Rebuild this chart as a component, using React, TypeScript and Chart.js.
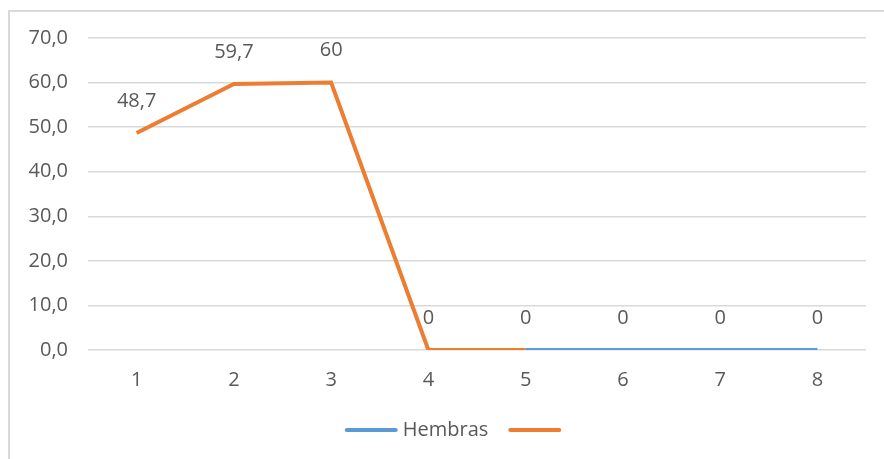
import React, { useEffect, useRef } from "react";
import { Chart, registerables } from "chart.js";

Chart.register(...registerables);

const categories = ["1", "2", "3", "4", "5", "6", "7", "8"];
const hembras: (number | null)[] = [null, null, null, null, 0, 0, 0, 0];
const serie2: (number | null)[] = [48.7, 59.7, 60, 0, 0, null, null, null];
const seriesNames = ["Hembras", ""];
const seriesColors = ["#5B9BD5", "#ED7D31"];

const FONT = "'Open Sans', 'Liberation Sans', sans-serif";
const TEXT = "#595959";

const fmtLabel = (v: number) => String(v).replace(".", ",");

const dataLabelPlugin = {
  id: "dataLabels",
  afterDatasetsDraw(chart: any) {
    const ctx = chart.ctx;
    const done = new Set<number>();
    ctx.save();
    ctx.font = `20px ${FONT}`;
    ctx.fillStyle = TEXT;
    ctx.textAlign = "center";
    ctx.textBaseline = "middle";
    for (let d = chart.data.datasets.length - 1; d >= 0; d--) {
      const ds = chart.data.datasets[d];
      const meta = chart.getDatasetMeta(d);
      ds.data.forEach((v: number | null, i: number) => {
        if (v === null || v === undefined || done.has(i)) return;
        done.add(i);
        const pt = meta.data[i];
        ctx.fillText(fmtLabel(v), pt.x, pt.y - 32);
      });
    }
    ctx.restore();
  },
};

const legendPlugin = {
  id: "customLegend",
  afterDraw(chart: any) {
    const ctx = chart.ctx;
    const lineW = 53;
    const gapText = 5;
    const gapItem = 20;
    ctx.save();
    ctx.font = `20px ${FONT}`;
    const items = chart.data.datasets.map((ds: any) => ({
      text: ds.label as string,
      color: ds.borderColor as string,
      w: ctx.measureText(ds.label).width,
    }));
    let total = 0;
    items.forEach((it: any, i: number) => {
      total += lineW + (it.text ? gapText + it.w : 0) + (i < items.length - 1 ? gapItem : 0);
    });
    let x = chart.width / 2 + 6 - total / 2;
    const y = chart.height - 29;
    ctx.textBaseline = "middle";
    ctx.textAlign = "left";
    items.forEach((it: any) => {
      ctx.strokeStyle = it.color;
      ctx.lineWidth = 4;
      ctx.lineCap = "round";
      ctx.beginPath();
      ctx.moveTo(x + 2, y);
      ctx.lineTo(x + lineW - 2, y);
      ctx.stroke();
      x += lineW;
      if (it.text) {
        ctx.fillStyle = TEXT;
        ctx.fillText(it.text, x + gapText, y);
        x += gapText + it.w;
      }
      x += gapItem;
    });
    ctx.restore();
  },
};

export default function App() {
  const ref = useRef<HTMLCanvasElement | null>(null);
  useEffect(() => {
    if (!ref.current) return;
    const chart = new Chart(ref.current, {
      type: "line",
      data: {
        labels: categories,
        datasets: [
          {
            label: seriesNames[0],
            data: hembras,
            borderColor: seriesColors[0],
            backgroundColor: seriesColors[0],
            borderWidth: 4,
            pointRadius: 0,
            tension: 0,
          },
          {
            label: seriesNames[1],
            data: serie2,
            borderColor: seriesColors[1],
            backgroundColor: seriesColors[1],
            borderWidth: 4,
            pointRadius: 0,
            tension: 0,
          },
        ],
      },
      options: {
        animation: false,
        responsive: true,
        maintainAspectRatio: false,
        layout: { padding: { top: 26, right: 18, left: 0, bottom: 67 } },
        plugins: {
          tooltip: { enabled: false },
          legend: { display: false },
        },
        scales: {
          x: {
            offset: true,
            afterFit: (s: any) => {
              s.height = 42;
            },
            grid: { display: false, drawTicks: false },
            border: { display: false },
            ticks: { font: { family: FONT, size: 20 }, color: TEXT, padding: 18 },
          },
          y: {
            min: 0,
            max: 70,
            afterFit: (s: any) => {
              s.width = 78;
              s.paddingTop = 0;
              s.paddingBottom = 0;
            },
            grid: { color: "#d9d9d9", lineWidth: 1.5, drawTicks: false },
            border: { display: false },
            ticks: {
              stepSize: 10,
              padding: 20,
              font: { family: FONT, size: 20 },
              color: TEXT,
              callback: (v: any) => Number(v).toFixed(1).replace(".", ","),
            },
          },
        },
      },
      plugins: [dataLabelPlugin, legendPlugin],
    });
    return () => chart.destroy();
  }, []);
  return (
    <div style={{ position: "absolute", left: 0, top: 0, width: 884, height: 459, background: "#fff", overflow: "hidden" }}>
      <div
        style={{
          position: "absolute",
          left: 8,
          top: 10,
          width: 876,
          height: 449,
          borderLeft: "2px solid #d9d9d9",
          borderTop: "2px solid #d9d9d9",
        }}
      >
        <div style={{ position: "relative", width: 874, height: 447 }}>
          <canvas ref={ref} />
        </div>
      </div>
    </div>
  );
}
